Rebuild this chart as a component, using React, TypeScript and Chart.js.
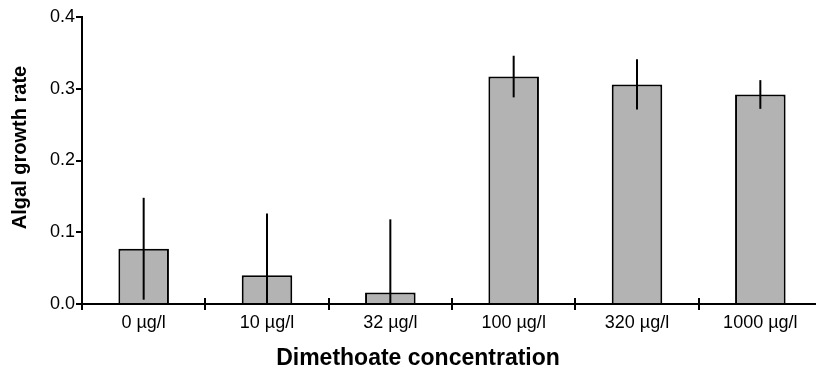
import React, { useEffect, useRef } from "react";
import { Chart, registerables } from "chart.js";

Chart.register(...registerables);

const categories = ["0 µg/l", "10 µg/l", "32 µg/l", "100 µg/l", "320 µg/l", "1000 µg/l"];
const growthRate = [0.077, 0.040, 0.016, 0.317, 0.306, 0.292];
const errorSize = [0.071, 0.086, 0.102, 0.029, 0.035, 0.020];
const yTicks = [0, 0.1, 0.2, 0.3, 0.4];
const xTitle = "Dimethoate concentration";
const yTitle = "Algal growth rate";

const FONT = "'Liberation Sans', Arial, sans-serif";

const errorBarPlugin = {
  id: "errorBars",
  afterDatasetsDraw(chart: any) {
    const meta = chart.getDatasetMeta(0);
    const y = chart.scales.y;
    const ctx = chart.ctx;
    ctx.save();
    ctx.strokeStyle = "#000";
    ctx.lineWidth = 2;
    meta.data.forEach((bar: any, i: number) => {
      const top = y.getPixelForValue(growthRate[i] + errorSize[i]);
      const bot = y.getPixelForValue(Math.max(0, growthRate[i] - errorSize[i]));
      ctx.beginPath();
      ctx.moveTo(bar.x, top);
      ctx.lineTo(bar.x, bot);
      ctx.stroke();
    });
    ctx.restore();
  },
};

const axisDecorPlugin = {
  id: "axisDecor",
  afterDraw(chart: any) {
    const ctx = chart.ctx;
    const x = chart.scales.x;
    const area = chart.chartArea;
    ctx.save();
    ctx.strokeStyle = "#000";
    ctx.lineWidth = 2;
    for (let i = 0; i <= categories.length; i++) {
      const px = Math.round(x.getPixelForValue(i - 0.5));
      ctx.beginPath();
      ctx.moveTo(px, area.bottom - 6);
      ctx.lineTo(px, area.bottom);
      ctx.stroke();
    }
    ctx.fillStyle = "#000";
    ctx.font = `bold 23px ${FONT}`;
    ctx.textAlign = "center";
    ctx.textBaseline = "alphabetic";
    ctx.fillText(xTitle, 418, 365);
    ctx.translate(25.5, 147.5);
    ctx.rotate(-Math.PI / 2);
    ctx.font = `bold 20px ${FONT}`;
    ctx.fillText(yTitle, 0, 0);
    ctx.restore();
  },
};

export default function App() {
  const ref = useRef<HTMLCanvasElement>(null);
  useEffect(() => {
    document.body.style.margin = "0";
    const chart = new Chart(ref.current!, {
      type: "bar",
      data: {
        labels: categories,
        datasets: [
          {
            data: growthRate,
            backgroundColor: "#b3b3b3",
            borderColor: "#000",
            borderWidth: 2,
            borderSkipped: "bottom",
            barPercentage: 0.41,
            categoryPercentage: 1,
          },
        ],
      },
      options: {
        animation: false,
        responsive: false,
        devicePixelRatio: 1,
        layout: { padding: { left: 0, top: 17, right: 8, bottom: 0 } },
        plugins: { legend: { display: false }, tooltip: { enabled: false } },
        scales: {
          x: {
            offset: true,
            grid: {
              display: true,
              offset: true,
              drawOnChartArea: false,
              drawTicks: true,
              tickLength: 6,
              color: "#000",
              lineWidth: 2,
            },
            border: { display: true, color: "#000", width: 2 },
            ticks: { color: "#000", font: { family: FONT, size: 18 }, padding: 2, maxRotation: 0 },
            afterFit: (s: any) => {
              s.height = 67;
            },
          },
          y: {
            min: 0,
            max: 0.4,
            afterBuildTicks: (s: any) => {
              s.ticks = yTicks.map((v) => ({ value: v }));
            },
            grid: {
              display: true,
              drawOnChartArea: false,
              drawTicks: true,
              tickLength: 6,
              color: "#000",
              lineWidth: 2,
            },
            border: { display: true, color: "#000", width: 2 },
            ticks: {
              color: "#000",
              font: { family: FONT, size: 18 },
              padding: 1,
              callback: (v: any) => Number(v).toFixed(1),
            },
            afterFit: (s: any) => {
              s.width = 82;
            },
          },
        },
      },
      plugins: [errorBarPlugin, axisDecorPlugin],
    });
    return () => chart.destroy();
  }, []);
  return (
    <div style={{ position: "absolute", left: 0, top: 0, width: 816, height: 371, overflow: "hidden", background: "#fff" }}>
      <canvas ref={ref} width={830} height={371} style={{ width: 830, height: 371, display: "block" }} />
    </div>
  );
}
